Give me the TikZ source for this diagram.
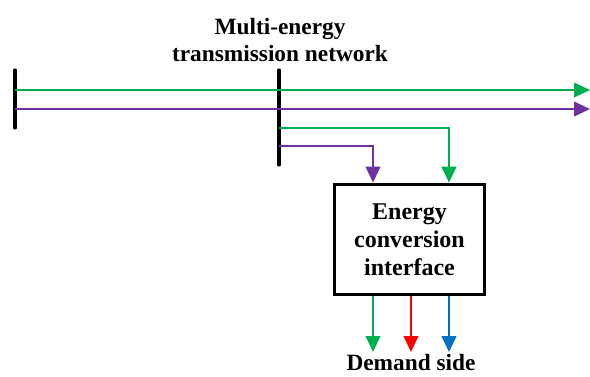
\documentclass[tikz,border=0pt]{standalone}
\usepackage{fontspec}
\setmainfont{Liberation Serif}
\usepackage{xcolor}
\usepackage{tikz}
\usetikzlibrary{arrows.meta,positioning}

\definecolor{gasgreen}{RGB}{0,176,80}
\definecolor{heatpurple}{RGB}{112,48,160}
\definecolor{elecred}{RGB}{255,0,0}
\definecolor{coolblue}{RGB}{0,112,192}

\begin{document}
\begin{tikzpicture}[
  x=0.75pt,y=-0.75pt,
  bus/.style={line width=2.3pt,line cap=round},
  flow/.style={-{Triangle[length=12pt,width=11pt]},line width=1.4pt},
  conv/.style={draw,line width=2.3pt,align=center,minimum width=112pt,minimum height=83pt,font=\bfseries\fontsize{18}{21}\selectfont},
  lbl/.style={align=center,font=\bfseries\fontsize{17.5}{20.5}\selectfont}
]
\useasboundingbox (0,0) rectangle (590,376);
% buses
\coordinate (busA-top) at (15,70);
\coordinate (busA-bot) at (15,128);
\coordinate (busB-top) at (279,70);
\coordinate (busB-bot) at (279,165);
\draw[bus] (busA-top) -- (busA-bot);
\draw[bus] (busB-top) -- (busB-bot);
\node[lbl] (net) at (280,40) {Multi-energy\\transmission network};
% main lines
\coordinate (gasA) at (15,90);
\coordinate (gasEnd) at (590,90);
\coordinate (heatA) at (15,109);
\coordinate (heatEnd) at (590,109);
\draw[flow,gasgreen] (gasA) -- (gasEnd);
\draw[flow,heatpurple] (heatA) -- (heatEnd);
% conversion interface
\node[conv] (conv) at (409.5,239.5) {Energy\\conversion\\interface};
\coordinate (gasTap) at (279,128);
\coordinate (heatTap) at (279,146);
\coordinate (gasIn) at (449,128);
\coordinate (heatIn) at (373,146);
\draw[flow,gasgreen] (gasTap) -- (gasIn) -- (conv.north -| gasIn);
\draw[flow,heatpurple] (heatTap) -- (heatIn) -- (conv.north -| heatIn);
% outputs
\foreach \n/\xx/\col in {g/373/gasgreen,e/411/elecred,c/449/coolblue}{
  \coordinate (out\n) at (\xx,352);
  \draw[flow,\col] (conv.south -| out\n) -- (out\n);
}
\node[lbl] (demand) at (411,362.5) {Demand side};
\end{tikzpicture}
\end{document}
